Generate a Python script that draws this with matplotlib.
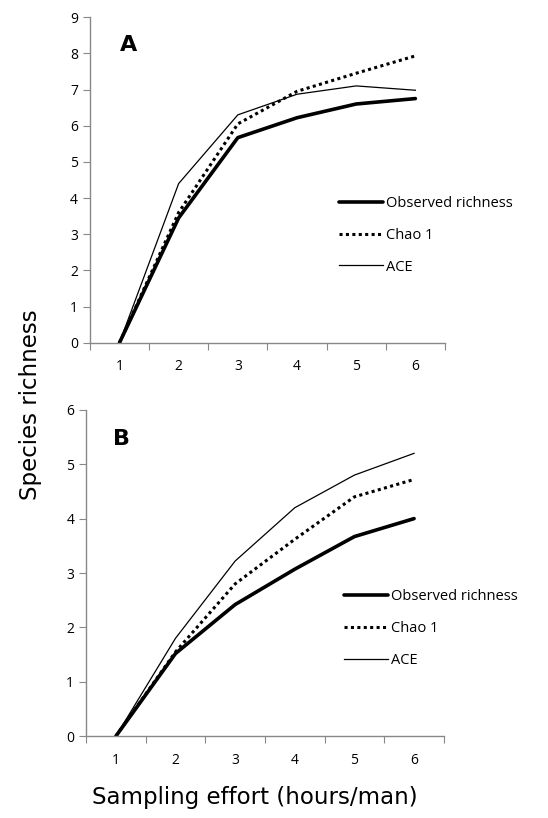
import numpy as np
import matplotlib.pyplot as plt
from matplotlib.ticker import FixedLocator, NullFormatter

effort = [1, 2, 3, 4, 5, 6]

# panel A
obs_a = [0, 3.45, 5.67, 6.22, 6.6, 6.75]
chao_a = [0, 3.6, 6.05, 6.95, 7.45, 7.93]
ace_a = [0, 4.4, 6.3, 6.87, 7.1, 6.98]

# panel B
obs_b = [0, 1.52, 2.42, 3.07, 3.67, 4.0]
chao_b = [0, 1.55, 2.8, 3.62, 4.4, 4.72]
ace_b = [0, 1.8, 3.22, 4.2, 4.8, 5.2]

labels = ["Observed richness", "Chao 1", "ACE"]

plt.rcParams['font.family'] = ['Open Sans', 'DejaVu Sans']

fig = plt.figure(figsize=(5.48, 8.18), dpi=100)
ax_a = fig.add_axes([0.164, 0.581, 0.648, 0.398])
ax_b = fig.add_axes([0.157, 0.100, 0.653, 0.399])


def style_axis(ax, ymax, legend_x):
    ax.set_xlim(0.5, 6.5)
    ax.set_ylim(0, ymax)
    ax.set_yticks(range(0, ymax + 1))
    # excel style category axis: ticks between categories, labels centred
    ax.xaxis.set_major_locator(FixedLocator(np.arange(0.5, 7, 1)))
    ax.xaxis.set_major_formatter(NullFormatter())
    ax.xaxis.set_minor_locator(FixedLocator(effort))
    ax.set_xticklabels([str(e) for e in effort], minor=True)
    ax.tick_params(axis='x', which='major', direction='out', length=5, color='#888888')
    ax.tick_params(axis='x', which='minor', length=0, pad=12, labelsize=10)
    ax.tick_params(axis='y', direction='out', length=5, color='#888888', labelsize=10)
    for s in ['top', 'right']:
        ax.spines[s].set_visible(False)
    for s in ['left', 'bottom']:
        ax.spines[s].set_color('#888888')
        ax.spines[s].set_linewidth(1.0)
    ax.legend(loc='center left', bbox_to_anchor=(legend_x, 0.33), frameon=False,
              fontsize=10.5, handlelength=3.0, handletextpad=0.2, labelspacing=1.15,
              borderaxespad=0)


def draw(ax, obs, chao, ace):
    ax.plot(effort, obs, color='black', lw=2.6, label=labels[0], solid_capstyle='round')
    ax.plot(effort, chao, color='black', lw=2.2, ls=(0, (1, 1.1)), label=labels[1])
    ax.plot(effort, ace, color='black', lw=0.9, label=labels[2])


draw(ax_a, obs_a, chao_a, ace_a)
style_axis(ax_a, 9, 0.685)
ax_a.text(0.085, 0.915, "A", transform=ax_a.transAxes, fontsize=16, fontweight='bold',
          family='DejaVu Sans', ha='left', va='center')

draw(ax_b, obs_b, chao_b, ace_b)
style_axis(ax_b, 6, 0.705)
ax_b.text(0.075, 0.91, "B", transform=ax_b.transAxes, fontsize=16, fontweight='bold',
          family='DejaVu Sans', ha='left', va='center')

fig.text(0.055, 0.505, "Species richness", rotation=90, fontsize=16.5,
         family='DejaVu Sans', ha='center', va='center')
fig.text(0.465, 0.025, "Sampling effort (hours/man)", fontsize=16.5,
         family='DejaVu Sans', ha='center', va='center')

fig.savefig("out.png", dpi=100)
